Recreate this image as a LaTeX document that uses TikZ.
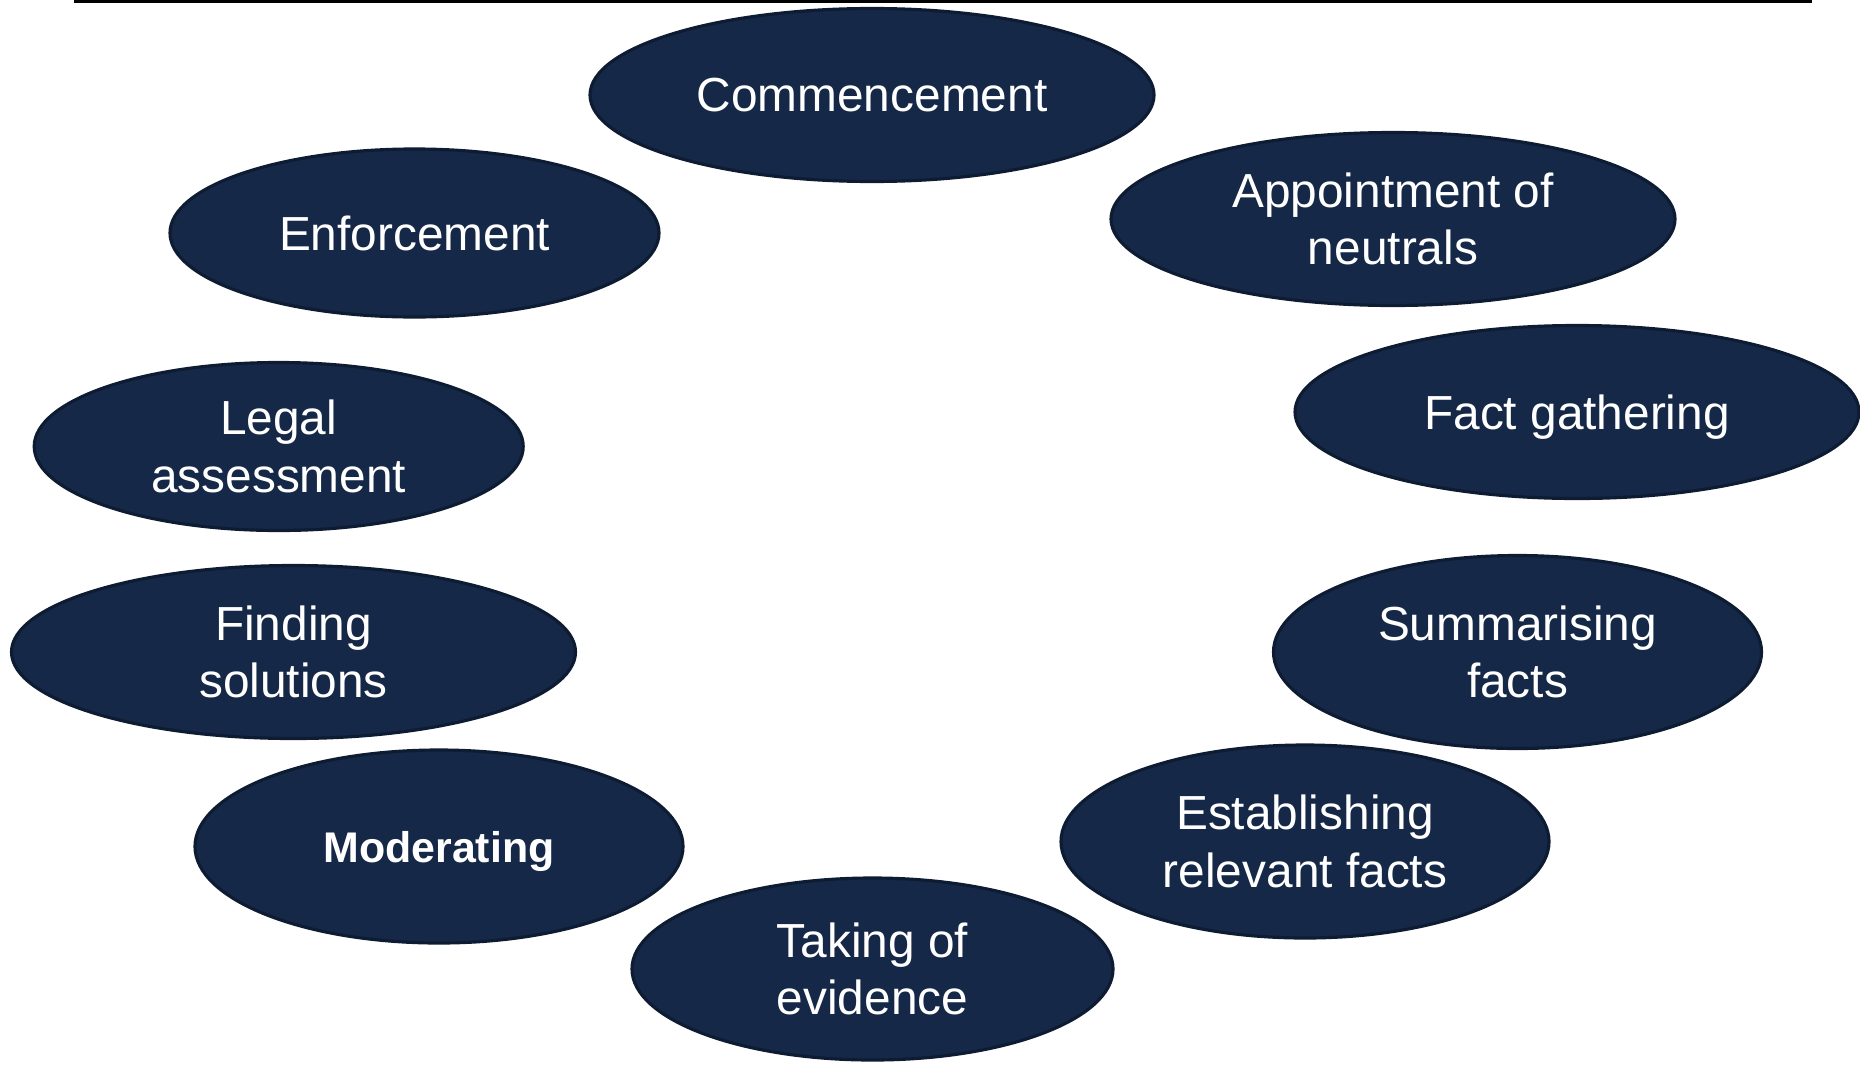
\documentclass[tikz,border=0pt]{standalone}
\usepackage{fontspec}
\setmainfont{Liberation Sans}
\usetikzlibrary{shapes.geometric}
\definecolor{navyfill}{HTML}{152847}
\definecolor{navyline}{HTML}{0E1C33}
\tikzset{
  stage/.style={ellipse, draw=navyline, line width=0.9pt, fill=navyfill,
    text=white, align=center, inner sep=0pt,
    font=\fontsize{13.6}{16.3}\selectfont},
  widestage/.style={stage, minimum width=5.64cm, minimum height=1.73cm},
  roundstage/.style={stage, minimum width=4.88cm, minimum height=1.93cm},
  flatstage/.style={stage, minimum width=4.89cm, minimum height=1.68cm}
}
\begin{document}
\begin{tikzpicture}[scale=1]
                    \useasboundingbox (0,0) rectangle (18.6,10.64);
                    % rule at the top
                    \draw[line width=0.77pt] (0.74,10.627)--(18.12,10.627);

                    \node (commence) at (8.72,9.69) [widestage] {Commencement};
                    \node (appoint) at (13.93,8.45) [widestage] {Appointment of\\neutrals};
                    \node (gather) at (15.77,6.52) [widestage, text depth=0pt] {Fact gathering};
                    \node (summary) at (15.175,4.12) [roundstage] {Summarising\\facts};
                    \node (establish) at (13.05,2.225) [roundstage] {Establishing\\relevant facts};
                    \node (evidence) at (8.725,0.95) [roundstage, minimum width=4.81cm, minimum height=1.82cm] {Taking of\\evidence};
                    \node (moderate) at (4.39,2.175) [roundstage, text depth=0pt, font=\fontsize{12.2}{14.6}\selectfont\bfseries] {Moderating};
                    \node (solution) at (2.935,4.12) [widestage] {Finding\\solutions};
                    \node (legal) at (2.787,6.175) [flatstage] {Legal\\assessment};
                    \node (enforce) at (4.145,8.31) [flatstage] {Enforcement};
                    \end{tikzpicture}
\end{document}
